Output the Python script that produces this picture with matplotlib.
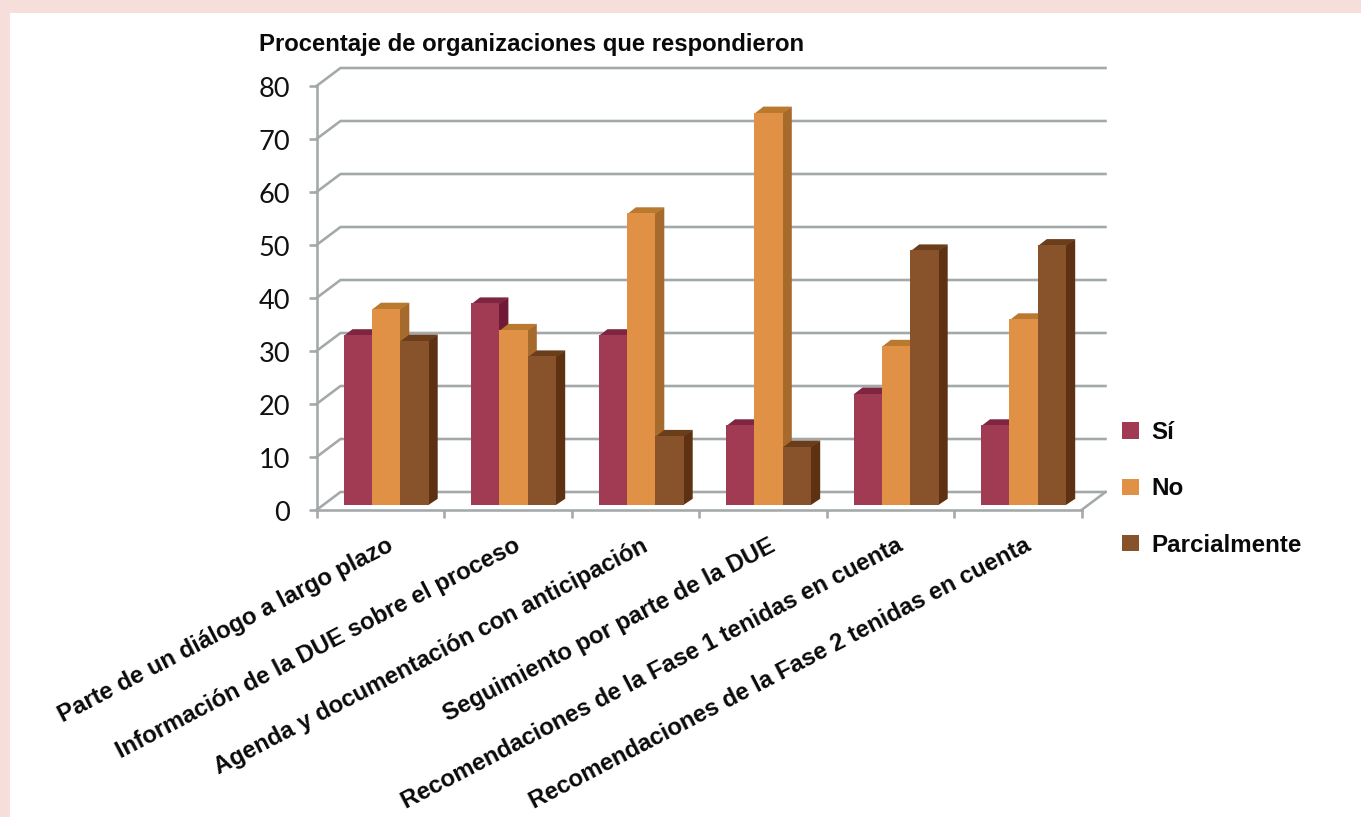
import matplotlib
matplotlib.use("Agg")
import matplotlib.pyplot as plt
from matplotlib.patches import Rectangle, Polygon
from matplotlib.transforms import ScaledTranslation

categories = ["Parte de un diálogo a largo plazo",
              "Información de la DUE sobre el proceso",
              "Agenda y documentación con anticipación",
              "Seguimiento por parte de la DUE",
              "Recomendaciones de la Fase 1 tenidas en cuenta",
              "Recomendaciones de la Fase 2 tenidas en cuenta"]
si = [32, 38, 32, 15, 21, 15]
no = [37, 33, 55, 74, 30, 35]
parcial = [31, 28, 13, 11, 48, 49]
y_ticks = [0, 10, 20, 30, 40, 50, 60, 70, 80]
title = "Procentaje de organizaciones que respondieron"

W, H = 1361, 817
X0, X1, Y0, Y80 = 316.5, 1081.5, 510.0, 86.0
fig = plt.figure(figsize=(W / 100, H / 100), dpi=100, facecolor="white")
PINK = "#F6DEDB"
fig.patches.append(Rectangle((0, 1 - 13 / H), 1, 13 / H, transform=fig.transFigure, color=PINK, lw=0))
fig.patches.append(Rectangle((0, 0), 9.5 / W, 1, transform=fig.transFigure, color=PINK, lw=0))

ax = fig.add_axes([X0 / W, 1 - Y0 / H, (X1 - X0) / W, (Y0 - Y80) / H])
ax.patch.set_alpha(0)
ax.set_xlim(0, 6)
ax.set_ylim(0, 80)
px = 6 / (X1 - X0)
py = 80 / (Y0 - Y80)

GRID = "#A3A9AA"
LW = 2.6 * 0.72
DX, DY = 24 * px, 18 * py

# walls and grid
for v in y_ticks:
    ax.plot([0, DX, 6 + DX], [v, v + DY, v + DY], color=GRID, lw=LW, clip_on=False, zorder=1,
            solid_joinstyle="miter")
ax.plot([6, 6 + DX], [0, DY], color=GRID, lw=LW, clip_on=False, zorder=1)

for s in ("top", "right"):
    ax.spines[s].set_visible(False)
for s in ("left", "bottom"):
    ax.spines[s].set_color(GRID)
    ax.spines[s].set_linewidth(LW)
    ax.spines[s].set_zorder(1)

ax.set_yticks(y_ticks)
ax.set_yticklabels([str(v) for v in y_ticks], family="Lato", fontsize=19.5, color="#111111")
ax.tick_params(axis="y", length=6, width=LW, color=GRID, pad=13)
yshift = ScaledTranslation(0, -1 / 100, fig.dpi_scale_trans)
for lab in ax.get_yticklabels():
    lab.set_transform(lab.get_transform() + yshift)
ax.set_xticks(range(7))
ax.set_xticklabels([])
ax.tick_params(axis="x", which="major", length=6, width=LW, color=GRID)
ax.set_xticks([i + 0.5 for i in range(6)], minor=True)
ax.set_xticklabels(categories, minor=True, rotation=27.5, ha="right", va="top",
                   rotation_mode="anchor", family="Liberation Sans", fontweight="bold",
                   fontsize=17.2, color="#0A0A0A")
ax.tick_params(axis="x", which="minor", length=0, pad=0)
shift = ScaledTranslation(6 / 100, -24 / 100, fig.dpi_scale_trans)
for lab in ax.get_xticklabels(minor=True):
    lab.set_transform(lab.get_transform() + shift)

# bars
series = [("Sí", si, "#A13B53", "#7E2540", "#701A38"),
          ("No", no, "#E09145", "#B97A30", "#A66A2C"),
          ("Parcialmente", parcial, "#88522A", "#6A3D1B", "#5E3113")]
START = 27.0 * px
BW = 28.4 * px
BASE = 5.2 * py
SX, SY = 9 * px, 6 * py
OVER = 1.5 * px
handles = []
for i in range(len(categories)):
    for j, (name, vals, front, top, side) in enumerate(series):
        left = i + START + j * BW
        v = vals[i] + BASE
        z = 3 + i * 3 + j
        ax.add_patch(Polygon([(left + BW - OVER, BASE), (left + BW, BASE), (left + BW + SX, BASE + SY),
                              (left + BW + SX, v + SY), (left + BW, v), (left + BW - OVER, v)],
                             closed=True, fc=side, ec="none", zorder=z, clip_on=False))
        ax.add_patch(Polygon([(left, v - 1 * py), (left + SX, v + SY), (left + BW + SX, v + SY), (left + BW, v - 1 * py)],
                             closed=True, fc=top, ec="none", zorder=z, clip_on=False))
        b = ax.bar(left, vals[i], BW, bottom=BASE, align="edge", color=front, lw=0, zorder=z + 0.5,
                   clip_on=False, label=name if i == 0 else None)
        if i == 0:
            handles.append(b)

leg = ax.legend(handles=handles, loc="upper left", bbox_to_anchor=((1122 - X0) / (X1 - X0), (Y0 - 421) / (Y0 - Y80)),
                frameon=False, handlelength=0.7, handleheight=0.66, handletextpad=0.5,
                labelspacing=1.38, borderaxespad=0, borderpad=0,
                prop={"family": "Liberation Sans", "weight": "bold", "size": 17.4})
for t in leg.get_texts():
    t.set_color("#0A0A0A")

fig.text(259 / W, 1 - 44 / H, title, family="Liberation Sans", fontweight="bold", fontsize=17.2,
         color="#0A0A0A", ha="left", va="center")

fig.savefig("out.png", dpi=100, facecolor=fig.get_facecolor())
